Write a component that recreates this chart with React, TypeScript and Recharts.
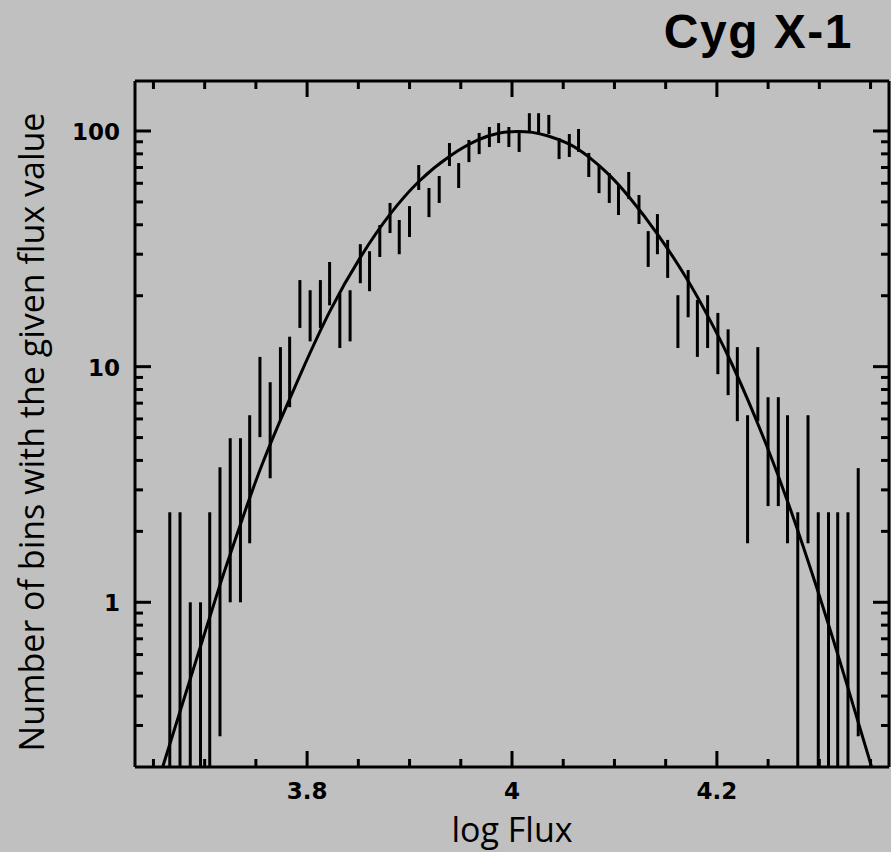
import React from 'react';
import { ComposedChart, Bar, Line, XAxis, YAxis } from 'recharts';

// Bin centres (log Flux)
const binX = [
  3.666, 3.676, 3.686, 3.696, 3.705, 3.715, 3.725, 3.735, 3.744, 3.754,
  3.764, 3.774, 3.783, 3.793, 3.803, 3.813, 3.822, 3.832, 3.842, 3.852,
  3.861, 3.871, 3.881, 3.890, 3.900, 3.909, 3.919, 3.929, 3.939, 3.948,
  3.958, 3.968, 3.978, 3.987, 3.997, 4.007, 4.017, 4.026, 4.036, 4.046,
  4.056, 4.065, 4.075, 4.085, 4.095, 4.104, 4.114, 4.124, 4.133, 4.142,
  4.152, 4.162, 4.172, 4.181, 4.191, 4.201, 4.211, 4.220, 4.230, 4.240,
  4.250, 4.260, 4.269, 4.279, 4.289, 4.299, 4.309, 4.318, 4.328, 4.338,
];
// Lower ends of the error bars
const binLow = [
  0.2, 0.2, 0.2, 0.2, 0.2, 0.27, 1.0, 1.0, 1.78, 5.02,
  3.36, 5.93, 6.73, 14.6, 12.8, 14.6, 18.2, 12.0, 12.8, 22.6,
  20.9, 29.2, 36.9, 30.0, 35.5, 56.2, 43.1, 49.5, 71.0, 57.3,
  73.8, 79.8, 85.5, 88.9, 85.5, 81.5, 99.1, 98.1, 97.1, 76.0,
  77.6, 81.5, 63.8, 54.5, 49.5, 44.0, 51.4, 40.3, 26.5, 30.0,
  23.8, 12.0, 16.2, 11.0, 12.0, 9.29, 7.57, 5.87, 1.78, 5.87,
  2.56, 2.56, 1.78, 0.2, 1.78, 0.2, 0.2, 0.2, 0.2, 0.27,
];
// Upper ends of the error bars
const binHigh = [
  2.41, 2.41, 1.0, 1.0, 2.41, 3.74, 4.97, 4.97, 6.22, 11.0,
  8.59, 12.1, 13.4, 23.3, 21.1, 23.3, 27.8, 20.5, 21.1, 33.1,
  30.9, 39.9, 49.5, 41.9, 48.0, 71.7, 57.3, 64.4, 88.9, 73.1,
  91.6, 98.1, 104, 108, 104, 100, 119, 119, 117, 93.4,
  97.1, 102, 80.7, 71.7, 66.3, 59.0, 67.0, 53.5, 37.6, 44.4,
  34.5, 20.1, 25.7, 19.2, 20.1, 16.9, 14.4, 12.1, 6.22, 12.1,
  7.42, 7.42, 6.22, 2.41, 6.22, 2.41, 2.41, 2.41, 2.41, 3.71,
];

// Fitted model curve
const fitX = [
  3.659, 3.676, 3.696, 3.715, 3.735, 3.754, 3.774, 3.793, 3.822, 3.852,
  3.881, 3.909, 3.939, 3.968, 3.987, 4.005, 4.020, 4.034, 4.056, 4.075,
  4.095, 4.114, 4.142, 4.172, 4.191, 4.211, 4.230, 4.249, 4.268, 4.298,
  4.327, 4.351,
];
const fitY = [
  0.2, 0.345, 0.65, 1.2, 2.15, 3.7, 5.95, 9.2, 17.5, 29.5,
  45, 62, 79, 93, 98.5, 100, 99, 96, 88.9, 78,
  65.5, 53, 37, 23.3, 16.5, 11.2, 7.3, 4.6, 2.8, 1.15,
  0.45, 0.2,
];

const xMajorTicks = [3.8, 4, 4.2];
const xMajorLabels = ['3.8', '4', '4.2'];
const xMinorTicks = [3.65, 3.7, 3.75, 3.85, 3.9, 3.95, 4.05, 4.1, 4.15, 4.25, 4.3, 4.35];
const yMajorTicks = [1, 10, 100];
const yMajorLabels = ['1', '10', '100'];
const yMinorTicks = [
  0.3, 0.4, 0.5, 0.6, 0.7, 0.8, 0.9,
  2, 3, 4, 5, 6, 7, 8, 9,
  20, 30, 40, 50, 60, 70, 80, 90,
];

const title = 'Cyg X-1';
const xTitle = 'log Flux';
const yTitle = 'Number of bins with the given flux value';

const BG = '#c0c0c0';
const INK = '#000';
const X_DOMAIN = [3.632, 4.368];
const Y_DOMAIN = [0.2, 163];
const MAJOR_LEN = 16;
const MINOR_LEN = 8;
const TICK_FONT = { fontFamily: 'DejaVu Sans', fontWeight: 700, fontSize: 23 };
const LABEL_FONT = { fontFamily: 'Open Sans', fontSize: 34 };

const xTicks = [...xMajorTicks, ...xMinorTicks].sort((a, b) => a - b);
const yTicks = [...yMajorTicks, ...yMinorTicks].sort((a, b) => a - b);

const majorIndex = (list: number[], v: number) =>
  list.findIndex((m) => Math.abs(m - v) < 1e-9);

const bottomTick = (p: any) => {
  const { x, y, payload } = p;
  const i = majorIndex(xMajorTicks, payload.value);
  const len = i >= 0 ? MAJOR_LEN : MINOR_LEN;
  return (
    <g>
      <line x1={x} y1={y} x2={x} y2={y - len} stroke={INK} strokeWidth={3} />
      {i >= 0 && (
        <text x={x} y={y + 32} textAnchor="middle" fill={INK} style={TICK_FONT}>
          {xMajorLabels[i]}
        </text>
      )}
    </g>
  );
};

const topTick = (p: any) => {
  const { x, y, payload } = p;
  const i = majorIndex(xMajorTicks, payload.value);
  const len = i >= 0 ? MAJOR_LEN : MINOR_LEN;
  return <line x1={x} y1={y} x2={x} y2={y + len} stroke={INK} strokeWidth={3} />;
};

const leftTick = (p: any) => {
  const { x, y, payload } = p;
  const i = majorIndex(yMajorTicks, payload.value);
  const len = i >= 0 ? MAJOR_LEN : MINOR_LEN;
  return (
    <g>
      <line x1={x} y1={y} x2={x + len} y2={y} stroke={INK} strokeWidth={3} />
      {i >= 0 && (
        <text x={x - 15} y={y + 9} textAnchor="end" fill={INK} style={TICK_FONT}>
          {yMajorLabels[i]}
        </text>
      )}
    </g>
  );
};

const rightTick = (p: any) => {
  const { x, y, payload } = p;
  const i = majorIndex(yMajorTicks, payload.value);
  const len = i >= 0 ? MAJOR_LEN : MINOR_LEN;
  return <line x1={x} y1={y} x2={x - len} y2={y} stroke={INK} strokeWidth={3} />;
};

const errorBarShape = (p: any) => {
  const cx = p.x + p.width / 2;
  return <rect x={cx - 1.5} y={p.y} width={3} height={Math.max(0, p.height)} fill={INK} />;
};

const axisLine = { stroke: INK, strokeWidth: 3 };

export default function App() {
  const barData = binX.map((x, i) => ({ x, range: [binLow[i], binHigh[i]] }));
  const fitData = fitX.map((x, i) => ({ x, fit: fitY[i] }));
  return (
    <div
      style={{
        position: 'absolute',
        left: 0,
        top: 0,
        width: 891,
        height: 852,
        background: BG,
        overflow: 'hidden',
      }}
    >
      <ComposedChart
        width={891}
        height={852}
        data={barData}
        margin={{ top: 80, right: 0, bottom: 0, left: 0 }}
      >
        <XAxis
          xAxisId="b"
          dataKey="x"
          type="number"
          domain={X_DOMAIN}
          allowDataOverflow
          ticks={xTicks}
          interval={0}
          tickSize={0}
          tickMargin={0}
          height={85}
          axisLine={axisLine}
          tickLine={false}
          tick={bottomTick}
        />
        <XAxis
          xAxisId="t"
          orientation="top"
          dataKey="x"
          type="number"
          domain={X_DOMAIN}
          allowDataOverflow
          ticks={xTicks}
          interval={0}
          tickSize={0}
          tickMargin={0}
          height={1}
          axisLine={axisLine}
          tickLine={false}
          tick={topTick}
        />
        <YAxis
          yAxisId="l"
          type="number"
          scale="log"
          domain={Y_DOMAIN}
          allowDataOverflow
          ticks={yTicks}
          interval={0}
          tickSize={0}
          tickMargin={0}
          width={135}
          axisLine={axisLine}
          tickLine={false}
          tick={leftTick}
        />
        <YAxis
          yAxisId="r"
          orientation="right"
          type="number"
          scale="log"
          domain={Y_DOMAIN}
          allowDataOverflow
          ticks={yTicks}
          interval={0}
          tickSize={0}
          tickMargin={0}
          width={2}
          axisLine={axisLine}
          tickLine={false}
          tick={rightTick}
        />
        <Bar
          xAxisId="b"
          yAxisId="l"
          dataKey="range"
          barSize={3}
          fill={INK}
          shape={errorBarShape}
          isAnimationActive={false}
        />
        <Line
          xAxisId="b"
          yAxisId="l"
          data={fitData}
          dataKey="fit"
          type="basis"
          dot={false}
          activeDot={false}
          stroke={INK}
          strokeWidth={3}
          isAnimationActive={false}
        />
      </ComposedChart>
      <svg
        width={891}
        height={852}
        style={{ position: 'absolute', left: 0, top: 0, pointerEvents: 'none' }}
      >
        <text
          x={853}
          y={48}
          textAnchor="end"
          fill={INK}
          letterSpacing={1.5}
          style={{ fontFamily: 'Liberation Sans', fontWeight: 700, fontSize: 48 }}
        >
          {title}
        </text>
        <text x={512} y={842} textAnchor="middle" fill={INK} style={LABEL_FONT}>
          {xTitle}
        </text>
        <text
          x={44}
          y={432}
          textAnchor="middle"
          transform="rotate(-90 44 432)"
          fill={INK}
          style={LABEL_FONT}
        >
          {yTitle}
        </text>
      </svg>
    </div>
  );
}
